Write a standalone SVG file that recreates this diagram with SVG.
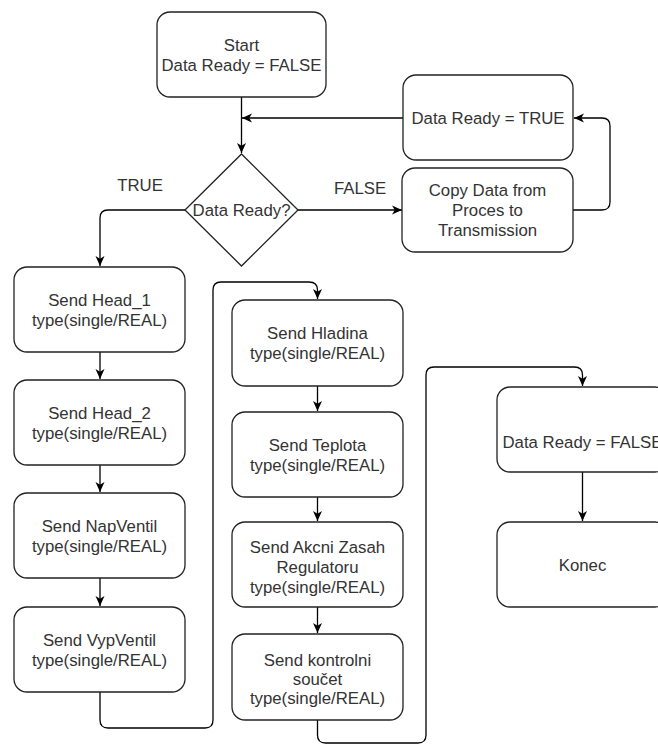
<svg xmlns="http://www.w3.org/2000/svg" width="658" height="744" viewBox="0 0 658 744">
<defs>
<marker id="arr" markerWidth="11" markerHeight="11" refX="10" refY="5.5" orient="auto" markerUnits="userSpaceOnUse">
<path d="M0,1 L10,5.5 L0,10 L2.8,5.5 z" fill="#000"/>
</marker>
<style>
.box{fill:#fff;stroke:#222;stroke-width:1.3}
.t{font-family:"Liberation Sans",Arial,sans-serif;font-size:16.8px;fill:#333;text-anchor:middle}
.c{fill:none;stroke:#000;stroke-width:1.3;marker-end:url(#arr)}
.n{fill:none;stroke:#000;stroke-width:1.3}
</style>
</defs>
<rect width="658" height="744" fill="#fff"/>
<g id="connectors">
<path class="c" d="M241.5,97 L241.5,153"/>
<path class="c" d="M403,118 L242,118"/>
<path class="c" d="M298,210 L402,210"/>
<path class="c" d="M573,210 L602,210 Q610,210 610,202 L610,126 Q610,118 602,118 L574,118"/>
<path class="c" d="M185,210 L108,210 Q100,210 100,218 L100,266"/>
<path class="c" d="M100,352 L100,379"/>
<path class="c" d="M100,465 L100,492"/>
<path class="c" d="M100,578 L100,606"/>
<path class="c" d="M100,692 L100,720 Q100,728 108,728 L205,728 Q213,728 213,720 L213,290 Q213,282 221,282 L309,282 Q317.5,282 317.5,290 L317.5,299"/>
<path class="c" d="M317.5,386 L317.5,411"/>
<path class="c" d="M317.5,497 L317.5,521"/>
<path class="c" d="M317.5,607 L317.5,633"/>
<path class="n" d="M317.5,720 L317.5,735 Q317.5,743 325.5,743 L418,743 Q426,743 426,735 L426,375 Q426,367 434,367 L574.5,367 Q582.5,367 582.5,375"/>
<path class="c" d="M582.5,375 L582.5,386"/>
<path class="c" d="M582.5,472 L582.5,521"/>
<text class="t" x="140" y="191">TRUE</text>
<text class="t" x="360" y="194">FALSE</text>
</g>
<g id="start">
<rect class="box" x="157" y="12" width="169" height="85" rx="13"/>
<text class="t" x="241.5" y="51">Start</text>
<text class="t" x="241.5" y="71">Data Ready = FALSE</text>
</g>
<g id="dataReadyTrue">
<rect class="box" x="403" y="75" width="170" height="85" rx="13"/>
<text class="t" x="488" y="124">Data Ready = TRUE</text>
</g>
<g id="decision">
<polygon class="box" points="241.5,154 298,210 241.5,266 185,210"/>
<text class="t" x="241.5" y="216">Data Ready?</text>
</g>
<g id="copyData">
<rect class="box" x="402" y="168" width="171" height="84" rx="13"/>
<text class="t" x="487.5" y="196">Copy Data from</text>
<text class="t" x="487.5" y="216">Proces to</text>
<text class="t" x="487.5" y="236">Transmission</text>
</g>
<g id="head1">
<rect class="box" x="14" y="267" width="171" height="85" rx="13"/>
<text class="t" x="99.5" y="306">Send Head_1</text>
<text class="t" x="99.5" y="326">type(single/REAL)</text>
</g>
<g id="head2">
<rect class="box" x="14" y="380" width="171" height="85" rx="13"/>
<text class="t" x="99.5" y="419">Send Head_2</text>
<text class="t" x="99.5" y="439">type(single/REAL)</text>
</g>
<g id="napVentil">
<rect class="box" x="14" y="493" width="171" height="85" rx="13"/>
<text class="t" x="99.5" y="532">Send NapVentil</text>
<text class="t" x="99.5" y="552">type(single/REAL)</text>
</g>
<g id="vypVentil">
<rect class="box" x="14" y="607" width="171" height="85" rx="13"/>
<text class="t" x="99.5" y="646">Send VypVentil</text>
<text class="t" x="99.5" y="666">type(single/REAL)</text>
</g>
<g id="hladina">
<rect class="box" x="232" y="300" width="171" height="86" rx="13"/>
<text class="t" x="317.5" y="339">Send Hladina</text>
<text class="t" x="317.5" y="359">type(single/REAL)</text>
</g>
<g id="teplota">
<rect class="box" x="232" y="412" width="171" height="85" rx="13"/>
<text class="t" x="317.5" y="451">Send Teplota</text>
<text class="t" x="317.5" y="471">type(single/REAL)</text>
</g>
<g id="akcni">
<rect class="box" x="232" y="522" width="171" height="85" rx="13"/>
<text class="t" x="317.5" y="553">Send Akcni Zasah</text>
<text class="t" x="317.5" y="573">Regulatoru</text>
<text class="t" x="317.5" y="593">type(single/REAL)</text>
</g>
<g id="kontrolni">
<rect class="box" x="232" y="634" width="171" height="86" rx="13"/>
<text class="t" x="317.5" y="666">Send kontrolni</text>
<text class="t" x="317.5" y="685">součet</text>
<text class="t" x="317.5" y="704">type(single/REAL)</text>
</g>
<g id="dataReadyFalse">
<rect class="box" x="497" y="387" width="171" height="85" rx="13"/>
<text class="t" x="582.5" y="448">Data Ready = FALSE</text>
</g>
<g id="konec">
<rect class="box" x="497" y="522" width="171" height="85" rx="13"/>
<text class="t" x="582.5" y="571">Konec</text>
</g>
</svg>
